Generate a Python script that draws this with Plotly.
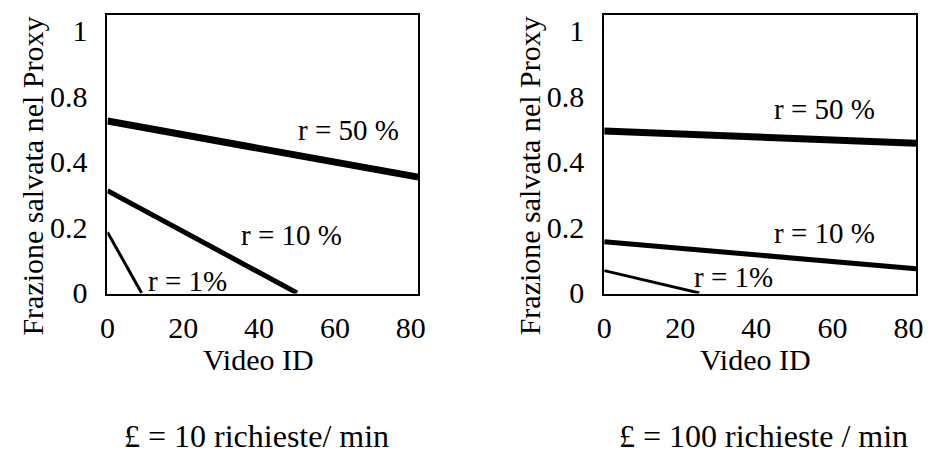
import plotly.graph_objects as go

# ---- data (y values expressed on the chart's evenly spaced grid: 0.2 per gridline) ----
x_ticks = [0, 20, 40, 60, 80]
y_tickvals = [0, 0.2, 0.4, 0.6, 0.8]
y_ticklabels = ["0", "0.2", "0.4", "0.8", "1"]

series_names = ["r = 50 %", "r = 10 %", "r = 1%"]

# panel 1 : £ = 10 richieste/ min
p1_x = {"r = 50 %": [0, 82], "r = 10 %": [0, 50], "r = 1%": [0, 9]}
p1_y = {"r = 50 %": [0.524, 0.353], "r = 10 %": [0.312, 0.0], "r = 1%": [0.185, 0.0]}

# panel 2 : £ = 100 richieste / min
p2_x = {"r = 50 %": [0, 82], "r = 10 %": [0, 82], "r = 1%": [0, 25]}
p2_y = {"r = 50 %": [0.494, 0.456], "r = 10 %": [0.156, 0.074], "r = 1%": [0.068, 0.0]}

captions = ["£ = 10 richieste/ min", "£ = 100 richieste / min"]

widths = {"r = 50 %": 7, "r = 10 %": 5, "r = 1%": 3}

FONT = "Liberation Serif"
PAGE_W, PAGE_H = 934, 471
BODY = 8                      # default page body margin
W, H = PAGE_W - 2 * BODY, PAGE_H - 2 * BODY


def px_x(X):
    return (X - BODY) / W


def px_y(Y):
    return 1 - (Y - BODY) / H


fig = go.Figure()

for i, (px, py) in enumerate([(p1_x, p1_y), (p2_x, p2_y)]):
    xa = "x" if i == 0 else "x2"
    ya = "y" if i == 0 else "y2"
    for name in series_names:
        fig.add_trace(go.Scatter(
            x=px[name], y=py[name], mode="lines", name=name,
            line=dict(color="black", width=widths[name]),
            xaxis=xa, yaxis=ya, showlegend=False, hoverinfo="skip",
        ))

# series labels (positions in data coords)
lbl1 = {"r = 50 %": (63.5, 0.496), "r = 10 %": (48.5, 0.176), "r = 1%": (21, 0.036)}
lbl2 = {"r = 50 %": (58, 0.56), "r = 10 %": (58, 0.183), "r = 1%": (34, 0.05)}
for i, lbl in enumerate([lbl1, lbl2]):
    xa = "x" if i == 0 else "x2"
    ya = "y" if i == 0 else "y2"
    for name in series_names:
        fig.add_annotation(x=lbl[name][0], y=lbl[name][1], xref=xa, yref=ya,
                           text=name, showarrow=False,
                           xanchor="center", yanchor="middle",
                           font=dict(family=FONT, size=29, color="black"))

axis_common = dict(showline=True, linecolor="black", linewidth=2, mirror=True,
                   showgrid=False, zeroline=False, ticks="",
                   tickfont=dict(family=FONT, size=30, color="black"))

dom1 = [px_x(101), px_x(417)]
dom2 = [px_x(606), px_x(923)]
ydom = [px_y(304), px_y(15)]

fig.update_layout(
    width=W, height=H,
    margin=dict(l=0, r=0, t=0, b=0),
    paper_bgcolor="white", plot_bgcolor="white",
    xaxis=dict(domain=dom1, range=[0, 82], tickvals=x_ticks, anchor="y",
               ticklabelstandoff=6, **axis_common),
    yaxis=dict(domain=ydom, range=[-0.002, 0.848], tickvals=y_tickvals,
               ticktext=y_ticklabels, anchor="x", ticklabelstandoff=12, **axis_common),
    xaxis2=dict(domain=dom2, range=[0, 82], tickvals=x_ticks, anchor="y2",
                ticklabelstandoff=6, **axis_common),
    yaxis2=dict(domain=ydom, range=[-0.002, 0.848], tickvals=y_tickvals,
                ticktext=y_ticklabels, anchor="x2", ticklabelstandoff=12, **axis_common),
)

# axis titles and captions
for vx, ytx in [(255, 25), (760, 530)]:
    fig.add_annotation(x=px_x(vx), y=px_y(372), xref="paper", yref="paper",
                       text="Video ID", showarrow=False,
                       xanchor="center", yanchor="middle",
                       font=dict(family=FONT, size=30, color="black"))
    fig.add_annotation(x=px_x(ytx), y=px_y(182), xref="paper", yref="paper",
                       text="Frazione salvata nel Proxy", showarrow=False, textangle=-90,
                       xanchor="center", yanchor="middle",
                       font=dict(family=FONT, size=30, color="black"))
for capx, cap in zip([252, 768], captions):
    fig.add_annotation(x=px_x(capx), y=px_y(452), xref="paper", yref="paper",
                       text=cap, showarrow=False,
                       xanchor="center", yanchor="middle",
                       font=dict(family=FONT, size=32, color="black"))

fig.write_html("out.html", config={"displayModeBar": False})
